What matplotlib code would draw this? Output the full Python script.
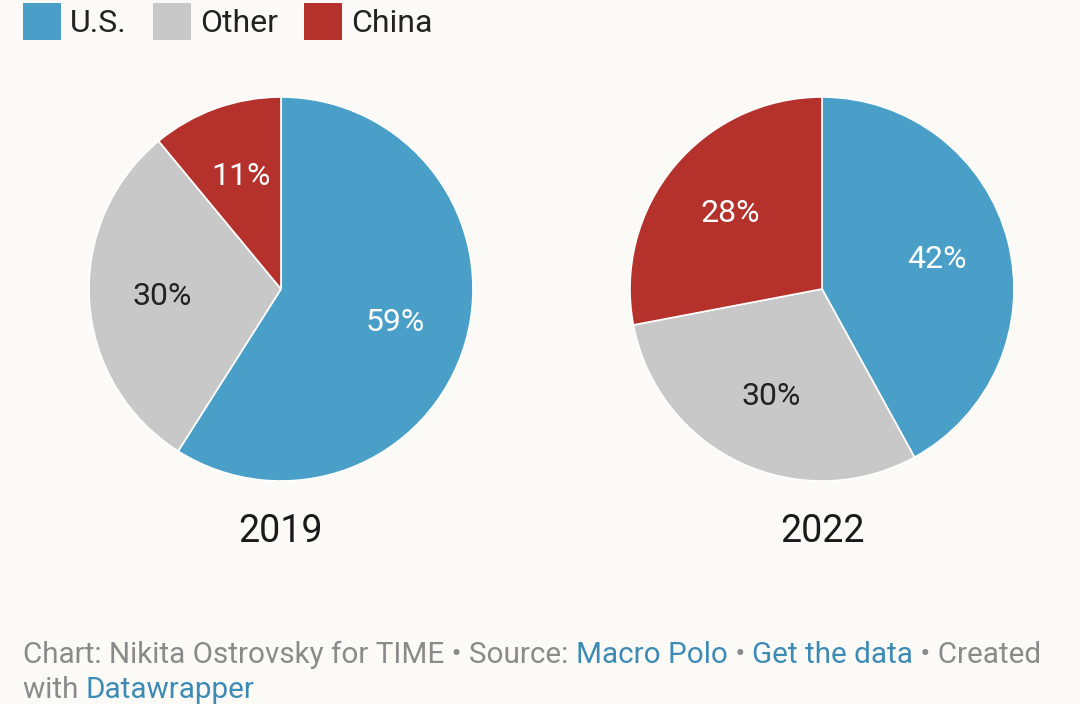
import matplotlib
matplotlib.use("Agg")
import matplotlib.pyplot as plt
from matplotlib.patches import Rectangle

plt.rcParams['font.family'] = ['Roboto', 'DejaVu Sans']

# data
categories = ['U.S.', 'Other', 'China']
years = ['2019', '2022']
shares = {
    '2019': [59, 30, 11],
    '2022': [42, 30, 28],
}
colors = ['#4a9fc9', '#c8c8c8', '#b5312b']
label_colors = ['white', '#222222', 'white']

BG = '#fbfaf7'
W, H = 1080, 704

fig = plt.figure(figsize=(W / 100, H / 100), dpi=100, facecolor=BG)

# pie centers in pixels (from top-left), radius in pixels
centers = [(281, 289), (822, 289)]
R = 192

for (cx, cy), year in zip(centers, years):
    ax = fig.add_axes([(cx - R) / W, (H - cy - R) / H, 2 * R / W, 2 * R / H])
    ax.set_facecolor(BG)
    wedges, texts, autotexts = ax.pie(
        shares[year], colors=colors, startangle=90, counterclock=False,
        autopct=lambda p: '%d%%' % round(p), pctdistance=0.62, radius=1,
        wedgeprops=dict(edgecolor='white', linewidth=1.2),
        textprops=dict(fontsize=23))
    for t, c in zip(autotexts, label_colors):
        t.set_color(c)
    ax.set_xlim(-1.0, 1.0)
    ax.set_ylim(-1.0, 1.0)
    ax.set_aspect('equal')
    ax.axis('off')
    fig.text(cx / W, 1 - 531 / H, year, ha='center', va='center',
             fontsize=27, color='#1a1a1a')

# legend at top
legend_x = [23, 153, 304]
for x, cat, col in zip(legend_x, categories, colors):
    fig.patches.append(Rectangle((x / W, 1 - 40 / H), 38 / W, 37 / H,
                                 transform=fig.transFigure, facecolor=col,
                                 edgecolor='none'))
    fig.text((x + 47) / W, 1 - 23 / H, cat, ha='left', va='center',
             fontsize=23, color='#222222')

# footer with mixed colours
gray = '#8a8a8a'
blue = '#3d8ab5'
line1 = [('Chart: Nikita Ostrovsky for TIME \u2022 Source: ', gray),
         ('Macro Polo', blue), (' \u2022 ', gray), ('Get the data', blue),
         (' \u2022 Created', gray)]
line2 = [('with ', gray), ('Datawrapper', blue)]

fig.canvas.draw()
renderer = fig.canvas.get_renderer()
for parts, y in [(line1, 655), (line2, 690)]:
    x = 23
    for s, c in parts:
        t = fig.text(x / W, 1 - y / H, s, ha='left', va='center',
                     fontsize=21.3, color=c)
        bb = t.get_window_extent(renderer=renderer)
        x += bb.width

fig.savefig('out.png', dpi=100, facecolor=BG)
